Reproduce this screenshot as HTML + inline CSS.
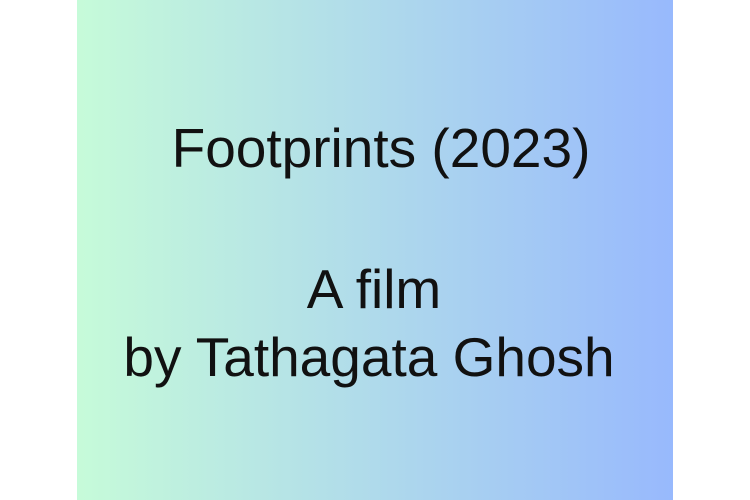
<!DOCTYPE html>
<html><head><meta charset="utf-8"><style>
html,body{margin:0;padding:0;width:750px;height:500px;background:#fff;overflow:hidden}
#card{position:absolute;left:77px;top:0;width:596px;height:500px;background:linear-gradient(to right,#c6fbd9,#98b9fd)}
.t{position:absolute;white-space:nowrap;font-family:"Liberation Sans",sans-serif;font-size:55px;color:#111;transform:translateX(-50%);line-height:1}
</style></head><body>
<div id="card"></div>
<div class="t" style="left:381px;top:121px">Footprints (2023)</div>
<div class="t" style="left:374px;top:262px">A film</div>
<div class="t" style="left:369px;top:330px">by Tathagata Ghosh</div>
</body></html>
